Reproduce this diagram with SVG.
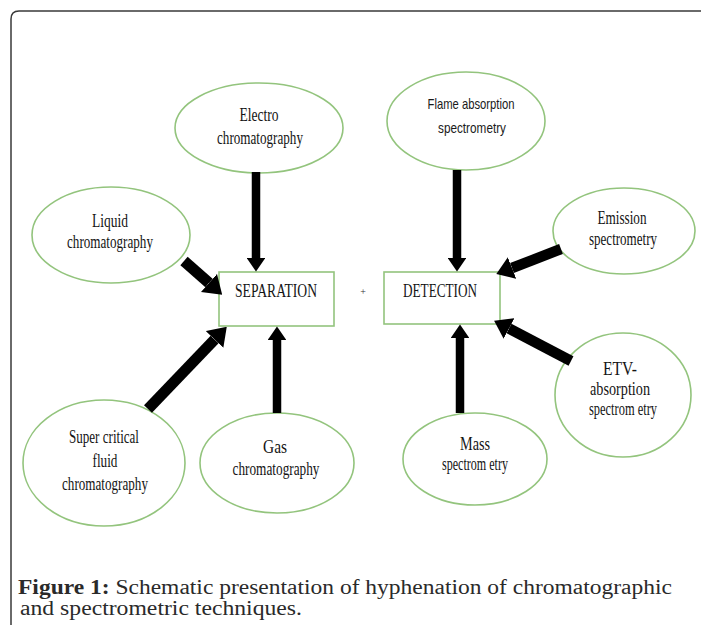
<svg xmlns="http://www.w3.org/2000/svg" width="701" height="625" viewBox="0 0 701 625">
<style>
.node ellipse, .node rect { fill: #ffffff; stroke: #93c47d; stroke-width: 1.6; }
.t { font-family: "Liberation Serif", "Times New Roman", serif; font-size: 18.5px; fill: #141414; text-anchor: middle; }
.ts { font-family: "Liberation Sans", Arial, sans-serif; font-size: 15px; fill: #1a1a1a; text-anchor: middle; }
.conn line { stroke: #000; fill: none; }
.cap { font-family: "Liberation Serif", "Times New Roman", serif; font-size: 20px; fill: #2a2a2a; }
</style>
<defs>
<marker id="ah" viewBox="0 0 16 22" markerWidth="1.6" markerHeight="2.2" refX="0" refY="11" orient="auto" markerUnits="strokeWidth">
<path d="M0,0 L16,11 L0,22 z" fill="#000"/>
</marker>
</defs>
<rect x="0" y="0" width="701" height="625" fill="#ffffff"/>
<path d="M11,625 V19 Q11,11 19,11 H701" fill="none" stroke="#3a3a3a" stroke-width="1.5"/>

<g id="electro" class="node">
<ellipse cx="259" cy="128" rx="84" ry="45"/>
<text class="t" x="259" y="121" textLength="39" lengthAdjust="spacingAndGlyphs">Electro</text>
<text class="t" x="260" y="144" textLength="86" lengthAdjust="spacingAndGlyphs">chromatography</text>
</g>
<g id="flame" class="node">
<ellipse cx="466" cy="121" rx="79" ry="49"/>
<text class="ts" x="471" y="109" textLength="87" lengthAdjust="spacingAndGlyphs">Flame absorption</text>
<text class="ts" x="472" y="133" textLength="68" lengthAdjust="spacingAndGlyphs">spectrometry</text>
</g>
<g id="liquid" class="node">
<ellipse cx="111" cy="235" rx="79" ry="48"/>
<text class="t" x="110" y="227" textLength="36" lengthAdjust="spacingAndGlyphs">Liquid</text>
<text class="t" x="110" y="248" textLength="86" lengthAdjust="spacingAndGlyphs">chromatography</text>
</g>
<g id="emission" class="node">
<ellipse cx="624" cy="231" rx="71" ry="43"/>
<text class="t" x="622" y="224" textLength="49" lengthAdjust="spacingAndGlyphs">Emission</text>
<text class="t" x="623" y="245" textLength="68" lengthAdjust="spacingAndGlyphs">spectrometry</text>
</g>
<g id="separation" class="node">
<rect x="219" y="272" width="115" height="54"/>
<text class="t" x="276" y="297" textLength="82" lengthAdjust="spacingAndGlyphs">SEPARATION</text>
</g>
<g id="detection" class="node">
<rect x="384" y="272" width="116" height="52"/>
<text class="t" x="440" y="297" textLength="74" lengthAdjust="spacingAndGlyphs">DETECTION</text>
</g>
<text x="363" y="295" font-family="Liberation Serif, serif" font-size="10" fill="#333" text-anchor="middle">+</text>
<g id="supercritical" class="node">
<ellipse cx="104" cy="463" rx="81" ry="63"/>
<text class="t" x="104" y="443" textLength="70" lengthAdjust="spacingAndGlyphs">Super critical</text>
<text class="t" x="105" y="467" textLength="25" lengthAdjust="spacingAndGlyphs">fluid</text>
<text class="t" x="105" y="490" textLength="86" lengthAdjust="spacingAndGlyphs">chromatography</text>
</g>
<g id="gas" class="node">
<ellipse cx="277" cy="463" rx="77" ry="50"/>
<text class="t" x="275" y="453" textLength="24" lengthAdjust="spacingAndGlyphs">Gas</text>
<text class="t" x="276" y="475" textLength="87" lengthAdjust="spacingAndGlyphs">chromatography</text>
</g>
<g id="mass" class="node">
<ellipse cx="475" cy="459" rx="72" ry="46"/>
<text class="t" x="475" y="450" textLength="30" lengthAdjust="spacingAndGlyphs">Mass</text>
<text class="t" x="475" y="470" textLength="66" lengthAdjust="spacingAndGlyphs">spectrom etry</text>
</g>
<g id="etv" class="node">
<ellipse cx="623" cy="395" rx="68" ry="62"/>
<text class="t" x="620" y="375" textLength="34" lengthAdjust="spacingAndGlyphs">ETV-</text>
<text class="t" x="620" y="395" textLength="60" lengthAdjust="spacingAndGlyphs">absorption</text>
<text class="t" x="623" y="415" textLength="68" lengthAdjust="spacingAndGlyphs">spectrom etry</text>
</g>

<g id="connectors" class="conn">
<line x1="256" y1="172" x2="256" y2="258" stroke-width="8.5" marker-end="url(#ah)"/>
<line x1="457" y1="170" x2="457" y2="258" stroke-width="8.5" marker-end="url(#ah)"/>
<line x1="277" y1="413" x2="277" y2="340" stroke-width="8.5" marker-end="url(#ah)"/>
<line x1="460" y1="413" x2="460" y2="338" stroke-width="8.5" marker-end="url(#ah)"/>
<line x1="184" y1="261" x2="209" y2="283" stroke-width="11" marker-end="url(#ah)"/>
<line x1="561" y1="249" x2="512" y2="268" stroke-width="10.5" marker-end="url(#ah)"/>
<line x1="571" y1="361" x2="509" y2="328.5" stroke-width="10.5" marker-end="url(#ah)"/>
<line x1="148" y1="409" x2="214.6" y2="339.5" stroke-width="11" marker-end="url(#ah)"/>
</g>

<text class="cap" x="18" y="594" textLength="654" lengthAdjust="spacingAndGlyphs"><tspan font-weight="bold">Figure 1:</tspan> Schematic presentation of hyphenation of chromatographic</text>
<text class="cap" x="20" y="615" textLength="282" lengthAdjust="spacingAndGlyphs">and spectrometric techniques.</text>
</svg>
